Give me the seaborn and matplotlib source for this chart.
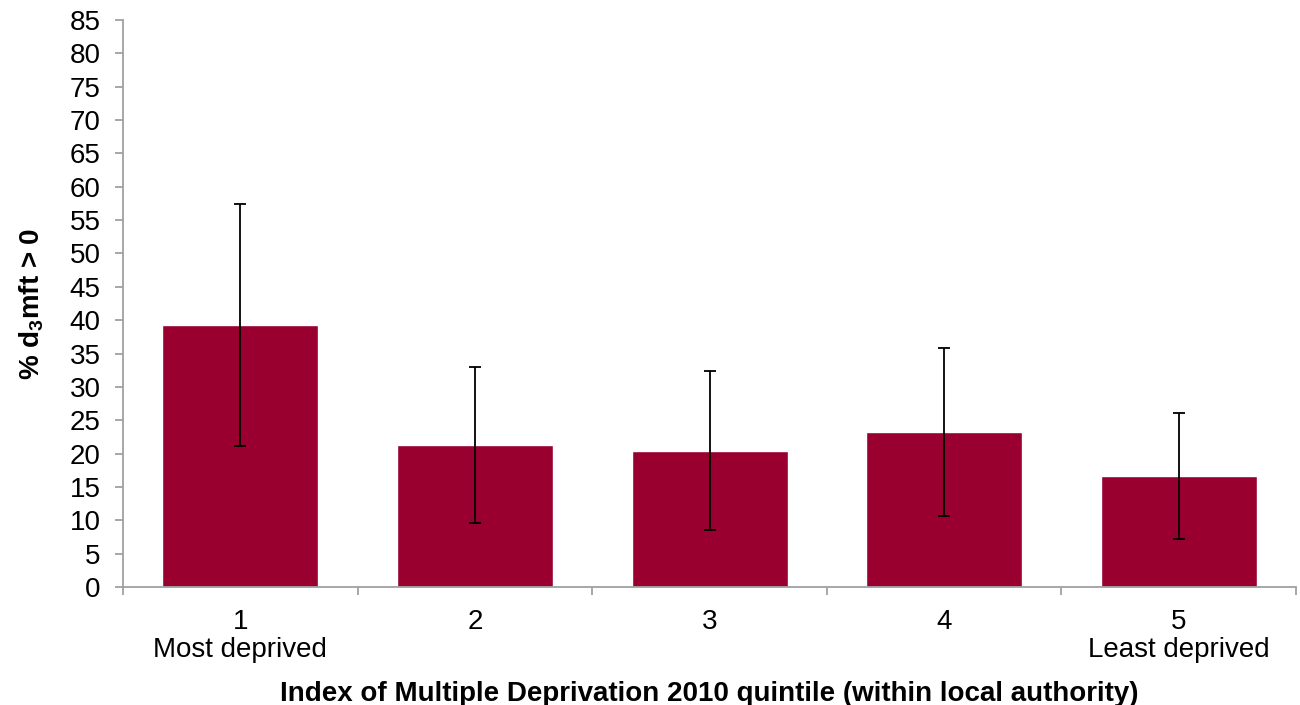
import numpy as np
import pandas as pd
import matplotlib
matplotlib.use("Agg")
import matplotlib.pyplot as plt
import seaborn as sns

# values
quintiles = ['1\nMost deprived', '2', '3', '4', '5\nLeast deprived']
pct = [39.3, 21.3, 20.4, 23.2, 16.6]
ci_low = [21.2, 9.6, 8.5, 10.6, 7.2]
ci_high = [57.4, 33.0, 32.4, 35.9, 26.1]

df = pd.DataFrame({'quintile': quintiles, 'pct': pct})

sns.set_style('white')
plt.rcParams['font.family'] = ['Liberation Sans', 'DejaVu Sans']
plt.rcParams['text.color'] = 'black'
plt.rcParams['axes.labelcolor'] = 'black'
plt.rcParams['xtick.color'] = 'black'
plt.rcParams['ytick.color'] = 'black'
plt.rcParams['mathtext.fontset'] = 'custom'
plt.rcParams['mathtext.bf'] = 'Liberation Sans:bold'
plt.rcParams['mathtext.rm'] = 'Liberation Sans'

fig = plt.figure(figsize=(13, 7.05), dpi=100)
ax = fig.add_axes([0.0946, 0.1674, 0.9024, 0.8042])

sns.barplot(data=df, x='quintile', y='pct', color='#990030', width=0.665,
            saturation=1, errorbar=None, ax=ax)

# error bars (asymmetric CIs)
yerr = np.array([np.array(pct) - np.array(ci_low), np.array(ci_high) - np.array(pct)])
ax.errorbar(np.arange(len(pct)), pct, yerr=yerr, fmt='none', ecolor='black',
            elinewidth=1.3, capsize=4.5, capthick=1.3)

ax.set_xlim(-0.5, len(pct) - 0.5)
ax.set_ylim(0, 85)
ax.set_yticks(range(0, 90, 5))

axis_col = '#a0a0a0'
for s in ['top', 'right']:
    ax.spines[s].set_visible(False)
for s in ['left', 'bottom']:
    ax.spines[s].set_color(axis_col)
    ax.spines[s].set_linewidth(1.3)

# Excel-style ticks between categories
ax.set_xticks(np.arange(-0.5, len(pct)), minor=True)
ax.tick_params(axis='x', which='major', bottom=True, length=0, pad=16, labelsize=20,
               labelcolor='black')
ax.tick_params(axis='x', which='minor', bottom=True, length=6, width=1.3,
               color=axis_col, direction='out')
ax.tick_params(axis='y', left=True, length=6, width=1.3, color=axis_col,
               direction='out', labelsize=20, pad=10, labelcolor='black')
for lab in ax.get_xticklabels():
    lab.set_linespacing(1.08)

ax.set_xlabel('Index of Multiple Deprivation 2010 quintile (within local authority)',
              fontsize=20, fontweight='bold', labelpad=13)
ax.set_ylabel('% d$_\\mathbf{3}$mft > 0', fontsize=20, fontweight='bold', labelpad=17)

fig.savefig('out.png', dpi=100)
